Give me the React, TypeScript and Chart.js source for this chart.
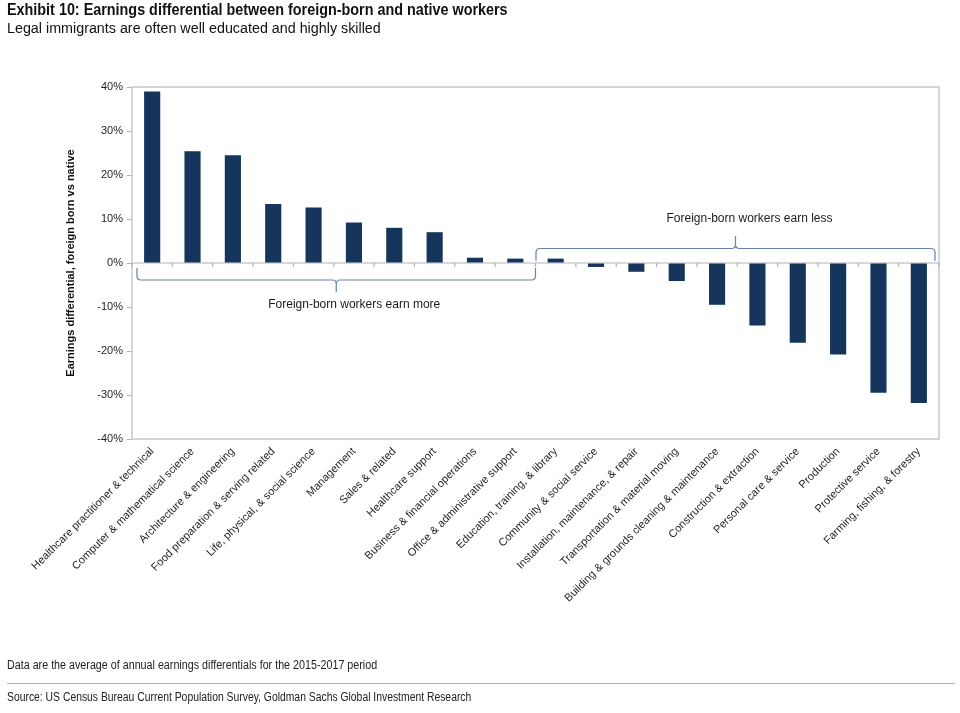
import React, { useEffect, useRef } from "react";
import { Chart, registerables } from "chart.js";

Chart.register(...registerables);

const categories = [
  "Healthcare practitioner & technical",
  "Computer & mathematical science",
  "Architecture & engineering",
  "Food preparation & serving related",
  "Life, physical, & social science",
  "Management",
  "Sales & related",
  "Healthcare support",
  "Business & financial operations",
  "Office & administrative support",
  "Education, training, & library",
  "Community & social service",
  "Installation, maintenance, & repair",
  "Transportation & material moving",
  "Building & grounds cleaning & maintenance",
  "Construction & extraction",
  "Personal care & service",
  "Production",
  "Protective service",
  "Farming, fishing, & forestry",
];

const differentials = [
  39.0, 25.4, 24.5, 13.4, 12.6, 9.2, 8.0, 7.0, 1.2, 1.0,
  1.0, -0.9, -2.0, -4.1, -9.5, -14.2, -18.1, -20.8, -29.5, -31.8,
];

const yTicks = [-40, -30, -20, -10, 0, 10, 20, 30, 40];

const TITLE = "Exhibit 10: Earnings differential between foreign-born and native workers";
const SUBTITLE = "Legal immigrants are often well educated and highly skilled";
const NOTE = "Data are the average of annual earnings differentials for the 2015-2017 period";
const SOURCE = "Source: US Census Bureau Current Population Survey, Goldman Sachs Global Investment Research";
const MORE_LABEL = "Foreign-born workers earn more";
const LESS_LABEL = "Foreign-born workers earn less";

const SANS = "'Liberation Sans', Arial, sans-serif";

const framePlugin = {
  id: "frame",
  beforeDatasetsDraw(chart: any) {
    const { ctx, chartArea } = chart;
    const { left, right, top, bottom } = chartArea;
    const y0 = chart.scales.y.getPixelForValue(0);
    const n = categories.length;
    const w = (right - left) / n;
    ctx.save();
    ctx.strokeStyle = "#c8c8c8";
    ctx.lineWidth = 1.5;
    ctx.strokeRect(left, top, right - left, bottom - top);
    ctx.strokeStyle = "#b4b4b4";
    ctx.lineWidth = 1.2;
    ctx.beginPath();
    ctx.moveTo(left, y0);
    ctx.lineTo(right, y0);
    for (let i = 0; i <= n; i++) {
      const x = left + i * w;
      ctx.moveTo(x, y0);
      ctx.lineTo(x, y0 + 4);
    }
    ctx.stroke();
    ctx.restore();
  },
};

function drawBrace(ctx: any, x1: number, x2: number, yEnd: number, yH: number, yTip: number) {
  const cx = (x1 + x2) / 2;
  const s = yH > yEnd ? 1 : -1;
  const r = 4;
  ctx.beginPath();
  ctx.moveTo(x1, yEnd);
  ctx.lineTo(x1, yH - s * r);
  ctx.quadraticCurveTo(x1, yH, x1 + r, yH);
  ctx.lineTo(cx - r, yH);
  ctx.quadraticCurveTo(cx, yH, cx, yH + s * r);
  ctx.lineTo(cx, yTip);
  ctx.moveTo(cx, yH + s * r);
  ctx.quadraticCurveTo(cx, yH, cx + r, yH);
  ctx.lineTo(x2 - r, yH);
  ctx.quadraticCurveTo(x2, yH, x2, yH - s * r);
  ctx.lineTo(x2, yEnd);
  ctx.stroke();
}

const bracePlugin = {
  id: "braces",
  afterDatasetsDraw(chart: any) {
    const { ctx, chartArea } = chart;
    const { left, right } = chartArea;
    const y0 = chart.scales.y.getPixelForValue(0);
    const n = categories.length;
    const w = (right - left) / n;
    const b = (i: number) => left + i * w;
    ctx.save();
    ctx.strokeStyle = "#6584a8";
    ctx.lineWidth = 1.2;
    const lx1 = b(0) + 5;
    const lx2 = b(10);
    drawBrace(ctx, lx1, lx2, y0 + 5, y0 + 17, y0 + 29);
    const ux1 = b(10) + 0.5;
    const ux2 = b(20) - 4;
    drawBrace(ctx, ux1, ux2, y0 - 2, y0 - 14.5, y0 - 27);
    ctx.fillStyle = "#1a1a1a";
    ctx.font = "12px " + SANS;
    ctx.textAlign = "center";
    ctx.textBaseline = "middle";
    ctx.fillText(MORE_LABEL, (lx1 + lx2) / 2 + 18, y0 + 42);
    ctx.fillText(LESS_LABEL, (ux1 + ux2) / 2 + 14, y0 - 44);
    ctx.restore();
  },
};

const textBase: React.CSSProperties = {
  position: "absolute",
  left: 7,
  fontFamily: SANS,
  whiteSpace: "nowrap",
  transformOrigin: "0 50%",
};

export default function App() {
  const canvasRef = useRef<HTMLCanvasElement | null>(null);

  useEffect(() => {
    if (!canvasRef.current) return;
    const chart = new Chart(canvasRef.current, {
      type: "bar",
      data: {
        labels: categories,
        datasets: [
          {
            data: differentials,
            backgroundColor: "#15355d",
            borderWidth: 0,
            barPercentage: 0.4,
            categoryPercentage: 1,
          },
        ],
      },
      options: {
        animation: false,
        responsive: false,
        maintainAspectRatio: false,
        layout: { padding: { top: 87, right: 21, left: 0, bottom: 0 } },
        plugins: {
          legend: { display: false },
          tooltip: { enabled: false },
          title: { display: false },
        },
        scales: {
          x: {
            grid: { display: false, drawTicks: false },
            border: { display: false },
            ticks: {
              autoSkip: false,
              maxRotation: 45,
              minRotation: 45,
              padding: 6,
              color: "#1e1e1e",
              font: { family: SANS, size: 11 },
            },
            afterFit: (s: any) => {
              s.height = 274;
            },
          },
          y: {
            min: yTicks[0],
            max: yTicks[yTicks.length - 1],
            afterBuildTicks: (s: any) => {
              s.ticks = yTicks.map((v) => ({ value: v }));
            },
            ticks: {
              padding: 4,
              color: "#1e1e1e",
              font: { family: SANS, size: 11 },
              callback: (v: any) => v + "%",
            },
            grid: {
              drawOnChartArea: false,
              drawTicks: true,
              tickLength: 5,
              color: "#b0b0b0",
            },
            border: { display: false },
            title: {
              display: true,
              text: "Earnings differential, foreign born vs native",
              color: "#111",
              font: { family: SANS, size: 11, weight: "bold" },
              padding: { top: 64, bottom: 0 },
            },
            afterFit: (s: any) => {
              s.width = 132;
            },
          },
        },
      } as any,
      plugins: [framePlugin, bracePlugin],
    });
    return () => chart.destroy();
  }, []);

  return (
    <div
      style={{
        position: "absolute",
        left: 0,
        top: 0,
        width: 960,
        height: 713,
        background: "#fff",
        overflow: "hidden",
      }}
    >
      <canvas
        ref={canvasRef}
        width={960}
        height={713}
        style={{ position: "absolute", left: 0, top: 0, display: "block" }}
      />
      <div
        style={{
          ...textBase,
          top: 1,
          fontWeight: "bold",
          fontSize: 16,
          color: "#111",
          lineHeight: "18px",
          transform: "scaleX(0.898)",
        }}
      >
        {TITLE}
      </div>
      <div
        style={{
          ...textBase,
          top: 19,
          fontSize: 15.5,
          color: "#111",
          lineHeight: "18px",
          transform: "scaleX(0.923)",
        }}
      >
        {SUBTITLE}
      </div>
      <div
        style={{
          ...textBase,
          top: 658,
          fontSize: 12,
          color: "#222",
          lineHeight: "15px",
          transform: "scaleX(0.894)",
        }}
      >
        {NOTE}
      </div>
      <div
        style={{
          position: "absolute",
          left: 7,
          top: 683,
          width: 948,
          height: 0,
          borderTop: "1.5px solid #b0b0b0",
        }}
      />
      <div
        style={{
          ...textBase,
          top: 690,
          fontSize: 12,
          color: "#222",
          lineHeight: "15px",
          transform: "scaleX(0.864)",
        }}
      >
        {SOURCE}
      </div>
    </div>
  );
}
